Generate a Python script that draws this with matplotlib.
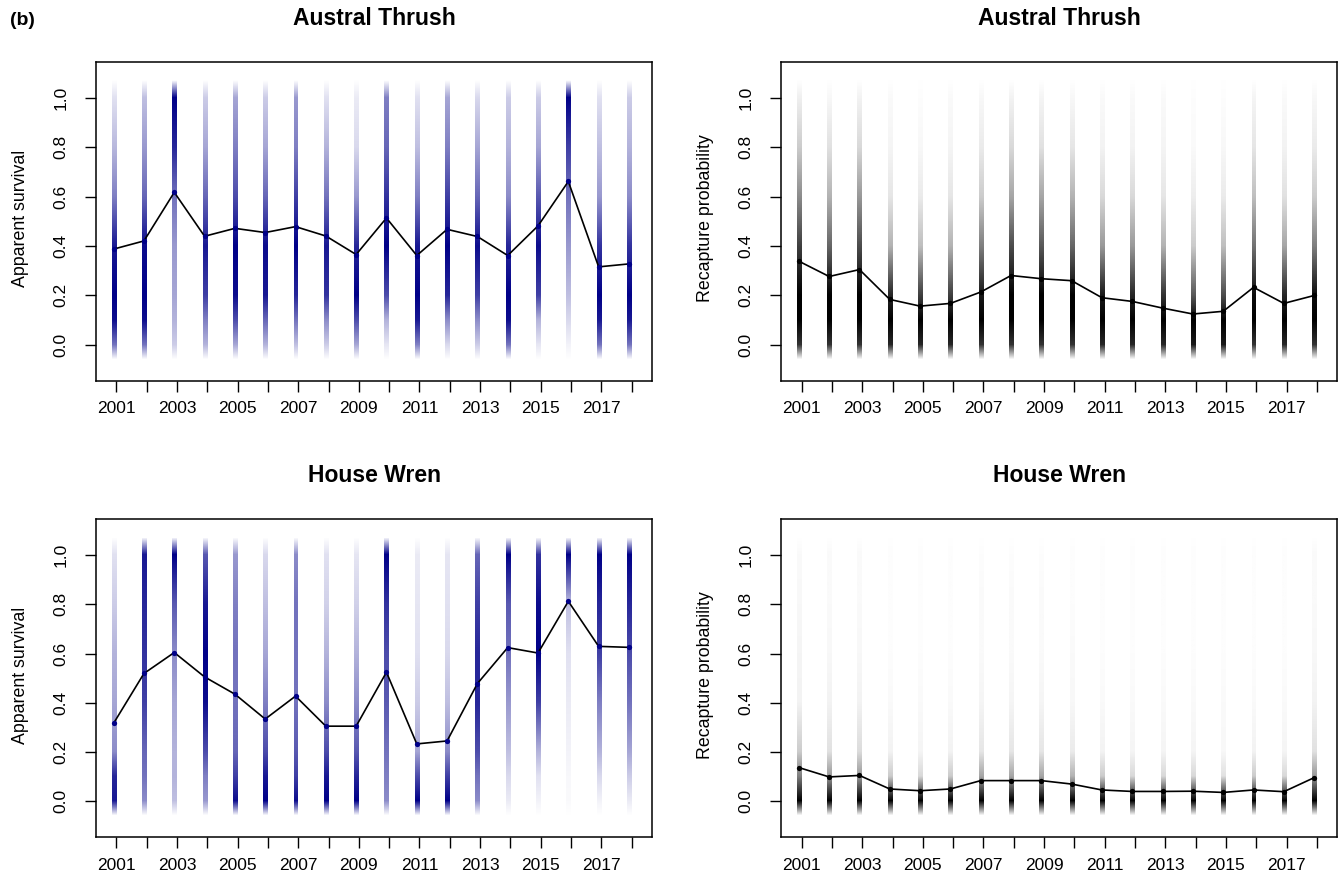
import numpy as np
import matplotlib.pyplot as plt
from matplotlib.colors import LinearSegmentedColormap, Normalize
from matplotlib.image import NonUniformImage
from matplotlib.patches import Rectangle

plt.rcParams.update({
    'font.family': ['Liberation Sans', 'DejaVu Sans'],
    'xtick.labelsize': 12.5,
    'ytick.labelsize': 12.5,
    'axes.labelsize': 12.8,
    'axes.linewidth': 1.1,
})

years = np.arange(2001, 2019)
year_labels = [str(y) if y % 2 == 1 else '' for y in years]
y_ticks = [0.0, 0.2, 0.4, 0.6, 0.8, 1.0]
y_tick_labels = ['0.0', '0.2', '0.4', '0.6', '0.8', '1.0']

# probability values at which the posterior shading is given
dens_levels = [0.0, 0.1, 0.2, 0.4, 0.6, 0.8, 1.0]

# Austral Thrush - apparent survival
thrush_phi = [0.387, 0.42, 0.617, 0.439, 0.471, 0.454, 0.478, 0.44, 0.365,
              0.513, 0.361, 0.467, 0.438, 0.361, 0.481, 0.661, 0.315, 0.327]
thrush_phi_dens = [
    [0.55, 0.95, 1.0, 0.9, 0.5, 0.28, 0.12],
    [0.55, 0.95, 1.0, 0.95, 0.6, 0.4, 0.25],
    [0.2, 0.3, 0.35, 0.4, 0.55, 0.85, 1.0],
    [0.3, 0.5, 0.75, 0.9, 0.6, 0.35, 0.2],
    [0.35, 0.7, 0.95, 1.0, 0.7, 0.5, 0.35],
    [0.3, 0.6, 0.9, 0.95, 0.6, 0.35, 0.2],
    [0.25, 0.55, 0.85, 1.0, 0.75, 0.5, 0.4],
    [0.2, 0.45, 0.8, 0.9, 0.55, 0.3, 0.12],
    [0.35, 0.7, 1.0, 0.85, 0.4, 0.15, 0.08],
    [0.1, 0.3, 0.7, 1.0, 0.8, 0.6, 0.5],
    [0.5, 0.9, 1.0, 0.9, 0.5, 0.25, 0.12],
    [0.15, 0.45, 0.85, 1.0, 0.75, 0.5, 0.35],
    [0.2, 0.45, 0.75, 0.95, 0.6, 0.35, 0.15],
    [0.55, 0.95, 1.0, 0.85, 0.45, 0.3, 0.2],
    [0.1, 0.3, 0.75, 0.95, 0.65, 0.35, 0.2],
    [0.05, 0.15, 0.25, 0.4, 0.55, 0.75, 1.0],
    [0.55, 0.9, 1.0, 0.8, 0.4, 0.25, 0.12],
    [0.55, 0.9, 1.0, 0.8, 0.45, 0.3, 0.2],
]

# Austral Thrush - recapture probability
thrush_p = [0.338, 0.276, 0.304, 0.183, 0.156, 0.167, 0.213, 0.28, 0.267,
            0.259, 0.19, 0.175, 0.148, 0.124, 0.135, 0.232, 0.167, 0.199]
thrush_p_dens = [
    [0.8, 1.0, 1.0, 0.75, 0.45, 0.2, 0.06],
    [0.8, 1.0, 1.0, 0.6, 0.3, 0.12, 0.03],
    [0.8, 1.0, 1.0, 0.7, 0.4, 0.15, 0.05],
    [0.85, 1.0, 0.85, 0.3, 0.1, 0.04, 0.02],
    [0.85, 1.0, 0.75, 0.25, 0.08, 0.03, 0.01],
    [0.85, 1.0, 0.75, 0.3, 0.1, 0.04, 0.02],
    [0.8, 1.0, 0.9, 0.5, 0.2, 0.08, 0.03],
    [0.8, 1.0, 1.0, 0.7, 0.35, 0.15, 0.05],
    [0.8, 1.0, 1.0, 0.65, 0.35, 0.12, 0.04],
    [0.8, 1.0, 1.0, 0.6, 0.3, 0.1, 0.03],
    [0.85, 1.0, 0.9, 0.4, 0.15, 0.05, 0.02],
    [0.85, 1.0, 0.85, 0.4, 0.15, 0.05, 0.02],
    [0.85, 1.0, 0.8, 0.3, 0.1, 0.04, 0.02],
    [0.9, 1.0, 0.65, 0.2, 0.07, 0.02, 0.01],
    [0.9, 1.0, 0.7, 0.25, 0.08, 0.03, 0.01],
    [0.8, 1.0, 0.95, 0.55, 0.25, 0.1, 0.04],
    [0.85, 1.0, 0.85, 0.35, 0.12, 0.05, 0.02],
    [0.8, 1.0, 0.95, 0.5, 0.2, 0.08, 0.03],
]

# House Wren - apparent survival
wren_phi = [0.317, 0.519, 0.604, 0.505, 0.435, 0.334, 0.427, 0.305, 0.305,
            0.524, 0.233, 0.245, 0.478, 0.624, 0.602, 0.812, 0.629, 0.625]
wren_phi_dens = [
    [0.9, 0.85, 0.45, 0.35, 0.3, 0.2, 0.12],
    [0.45, 0.55, 0.6, 0.75, 0.8, 0.85, 0.9],
    [0.25, 0.3, 0.3, 0.35, 0.45, 0.65, 1.0],
    [0.4, 0.5, 0.7, 0.95, 1.0, 0.9, 0.65],
    [0.95, 0.75, 0.6, 0.55, 0.55, 0.5, 0.4],
    [1.0, 0.9, 0.7, 0.5, 0.35, 0.25, 0.15],
    [0.95, 0.75, 0.65, 0.55, 0.55, 0.55, 0.45],
    [1.0, 0.9, 0.7, 0.45, 0.3, 0.18, 0.12],
    [1.0, 0.85, 0.65, 0.45, 0.3, 0.18, 0.1],
    [0.45, 0.5, 0.55, 0.65, 0.7, 0.8, 1.0],
    [1.0, 0.7, 0.35, 0.2, 0.12, 0.1, 0.08],
    [1.0, 0.75, 0.45, 0.25, 0.15, 0.12, 0.1],
    [0.45, 0.55, 0.7, 0.85, 0.85, 0.75, 0.6],
    [0.08, 0.15, 0.25, 0.4, 0.55, 0.65, 1.0],
    [0.05, 0.12, 0.3, 0.75, 1.0, 0.95, 0.8],
    [0.02, 0.03, 0.05, 0.08, 0.12, 0.25, 1.0],
    [0.05, 0.15, 0.3, 0.5, 0.75, 0.85, 1.0],
    [0.08, 0.2, 0.35, 0.55, 0.7, 0.85, 1.0],
]

# House Wren - recapture probability
wren_p = [0.137, 0.099, 0.105, 0.05, 0.043, 0.05, 0.084, 0.084, 0.084,
          0.07, 0.046, 0.04, 0.04, 0.041, 0.036, 0.046, 0.039, 0.096]
wren_p_dens = [
    [1.0, 0.5, 0.2, 0.05, 0.04, 0.03, 0.02],
    [1.0, 0.4, 0.12, 0.05, 0.03, 0.02, 0.02],
    [1.0, 0.4, 0.14, 0.05, 0.03, 0.02, 0.02],
    [1.0, 0.2, 0.05, 0.02, 0.01, 0.01, 0.01],
    [1.0, 0.15, 0.04, 0.02, 0.01, 0.01, 0.01],
    [1.0, 0.2, 0.05, 0.02, 0.01, 0.01, 0.01],
    [1.0, 0.35, 0.1, 0.04, 0.02, 0.02, 0.01],
    [1.0, 0.35, 0.1, 0.04, 0.02, 0.02, 0.01],
    [1.0, 0.35, 0.1, 0.04, 0.02, 0.02, 0.01],
    [1.0, 0.3, 0.08, 0.03, 0.02, 0.01, 0.01],
    [1.0, 0.2, 0.05, 0.02, 0.01, 0.01, 0.01],
    [1.0, 0.15, 0.04, 0.02, 0.01, 0.01, 0.01],
    [1.0, 0.15, 0.04, 0.02, 0.01, 0.01, 0.01],
    [1.0, 0.15, 0.04, 0.02, 0.01, 0.01, 0.01],
    [1.0, 0.12, 0.03, 0.02, 0.01, 0.01, 0.01],
    [1.0, 0.2, 0.05, 0.02, 0.01, 0.01, 0.01],
    [1.0, 0.15, 0.04, 0.02, 0.01, 0.01, 0.01],
    [1.0, 0.4, 0.12, 0.05, 0.03, 0.02, 0.02],
]

NAVY = '#000088'
STRIP_LO, STRIP_HI = -0.06, 1.07   # shading fades out just past 0 and 1
HALF_W = 0.065                      # half width of a strip, in years
X_SHIFT = 0.09


def density_strips(ax, means, dens, colour):
    cmap = LinearSegmentedColormap.from_list('strip', ['white', colour])
    yy = np.r_[STRIP_LO, dens_levels, STRIP_HI]
    xs = years - X_SHIFT
    for x, d in zip(xs, dens):
        c = np.r_[0.0, d, 0.0]
        im = NonUniformImage(ax, interpolation='bilinear', cmap=cmap,
                             norm=Normalize(0, 1), zorder=1)
        im.set_data([x - HALF_W, x + HALF_W], yy, np.column_stack([c, c]))
        # the image would otherwise spread over the whole axes
        box = Rectangle((x - HALF_W, STRIP_LO), 2 * HALF_W,
                        STRIP_HI - STRIP_LO, transform=ax.transData)
        im.set_clip_path(box)
        ax.add_image(im)
    ax.plot(xs, means, color='black', lw=1.2, zorder=3)
    ax.plot(xs, means, 'o', color=colour, ms=3.8, mew=0, zorder=4)


def style_axes(ax, title, ylabel):
    ax.set_xlim(2000.32, 2018.68)
    ax.set_ylim(-0.146, 1.146)
    ax.set_xticks(years)
    ax.set_xticklabels(year_labels)
    ax.set_yticks(y_ticks)
    ax.set_yticklabels(y_tick_labels, rotation=90, va='center')
    ax.tick_params(direction='out', length=7.6, width=1.0)
    ax.tick_params(axis='x', pad=7)
    ax.tick_params(axis='y', pad=12)
    ax.set_ylabel(ylabel)
    ax.yaxis.set_label_coords(-0.12, 0.51)
    ax.text(0.5, 1.137, title, transform=ax.transAxes, ha='center',
            va='center', fontsize=16.5, fontweight='bold')


fig = plt.figure(figsize=(13.43, 8.83), dpi=100)

panels = [
    ([0.0713, 0.5689, 0.4144, 0.3612], thrush_phi, thrush_phi_dens, NAVY,
     'Austral Thrush', 'Apparent survival'),
    ([0.5815, 0.5689, 0.4144, 0.3612], thrush_p, thrush_p_dens, 'black',
     'Austral Thrush', 'Recapture probability'),
    ([0.0713, 0.0518, 0.4144, 0.3604], wren_phi, wren_phi_dens, NAVY,
     'House Wren', 'Apparent survival'),
    ([0.5815, 0.0518, 0.4144, 0.3604], wren_p, wren_p_dens, 'black',
     'House Wren', 'Recapture probability'),
]

for rect, means, dens, colour, title, ylabel in panels:
    ax = fig.add_axes(rect)
    density_strips(ax, means, dens, colour)
    style_axes(ax, title, ylabel)

fig.text(0.0075, 0.977, '(b)', fontsize=14, fontweight='bold', va='center')

fig.savefig('out.png', dpi=100)
